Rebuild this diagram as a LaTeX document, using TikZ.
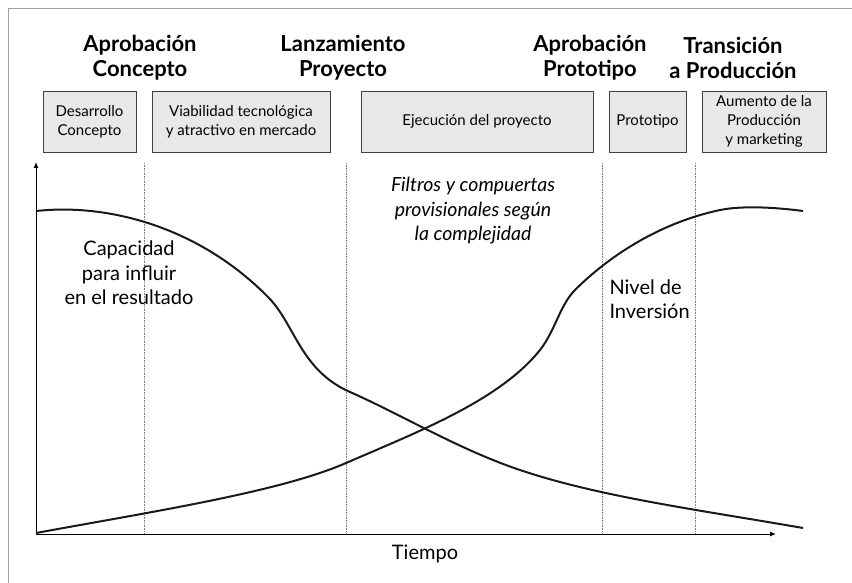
\documentclass[tikz,border=0pt]{standalone}
\usepackage{fontspec}
\setmainfont{Lato}
\usetikzlibrary{arrows.meta}
\definecolor{boxfill}{HTML}{E8E8E8}
\definecolor{frame}{HTML}{A0A0A0}
\begin{document}
\begin{tikzpicture}[x=1pt,y=-1pt,
  phase/.style={draw=black!75,fill=boxfill,line width=0.8pt,inner sep=0pt,align=center,
     font=\fontsize{15}{19}\selectfont},
  gate/.style={font=\fontsize{22}{25}\selectfont\bfseries,align=center},
  lbl/.style={font=\fontsize{20}{24.5}\selectfont,align=center},
  divider/.style={gray,densely dotted,line width=0.6pt},
  curve/.style={line width=2pt,black!90},
  axis/.style={line width=1pt,-{Latex[length=6pt,width=5pt]}}]
\useasboundingbox (0,0) rectangle (852,583);
\draw[frame,line width=0.8pt] (8,583) -- (8,8) -- (852,8);
% headings
\node[gate] (g1) at (140,58) {Aprobación\\Concepto};
\node[gate] (g2) at (343,58) {Lanzamiento\\Proyecto};
\node[gate] (g3) at (590,58) {Aprobación\\Prototipo};
\node[gate] (g4) at (733,58) {Transición\\a Producción};
% phase boxes
\node[phase,minimum width=93,minimum height=61] (b1) at (89.5,121.5) {Desarrollo\\Concepto};
\node[phase,minimum width=178,minimum height=61] (b2) at (241,121.5) {Viabilidad tecnológica\\y atractivo en mercado};
\node[phase,minimum width=232,minimum height=61] (b3) at (477,121.5) {Ejecución del proyecto};
\node[phase,minimum width=77,minimum height=61] (b4) at (647.5,121.5) {Prototipo};
\node[phase,minimum width=124,minimum height=61] (b5) at (764,121.5) {Aumento de la\\Producción\\y marketing};
% axes
\coordinate (o) at (36,534);
\coordinate (ytop) at (36,162);
\coordinate (xend) at (776,534);
\draw[axis] (o) -- (ytop);
\draw[axis] (o) -- (xend);
% dividers
\coordinate (d1t) at (144,163); \coordinate (d1b) at (144,534);
\coordinate (d2t) at (346,163); \coordinate (d2b) at (346,534);
\coordinate (d3t) at (602,163); \coordinate (d3b) at (602,534);
\coordinate (d4t) at (695,163); \coordinate (d4b) at (695,534);
\draw[divider] (d1t) -- (d1b);
\draw[divider] (d2t) -- (d2b);
\draw[divider] (d3t) -- (d3b);
\draw[divider] (d4t) -- (d4b);
% curves
\draw[curve] (36,211) .. controls (110,203) and (200,228) .. (268,297)
  .. controls (295,324) and (300,370) .. (350,392)
  .. controls (400,414) and (460,450) .. (520,470)
  .. controls (600,497) and (700,510) .. (803,528);
\draw[curve] (36,533) .. controls (150,512) and (280,492) .. (346,463)
  .. controls (420,431) and (500,400) .. (540,350)
  .. controls (555,331) and (560,305) .. (575,290)
  .. controls (600,265) and (650,225) .. (720,210)
  .. controls (745,205) and (780,208) .. (803,211);
% labels
\node[lbl] (cap) at (129,273) {Capacidad\\para influir\\en el resultado};
\node[lbl,font=\fontsize{19.5}{24.5}\selectfont\itshape] (filt) at (473,211) {Filtros y compuertas\\provisionales según\\la complejidad};
\node[lbl,align=left,anchor=west] (inv) at (606,299) {Nivel de\\Inversión};
\node[lbl] (t) at (425,554) {Tiempo};
\end{tikzpicture}
\end{document}
